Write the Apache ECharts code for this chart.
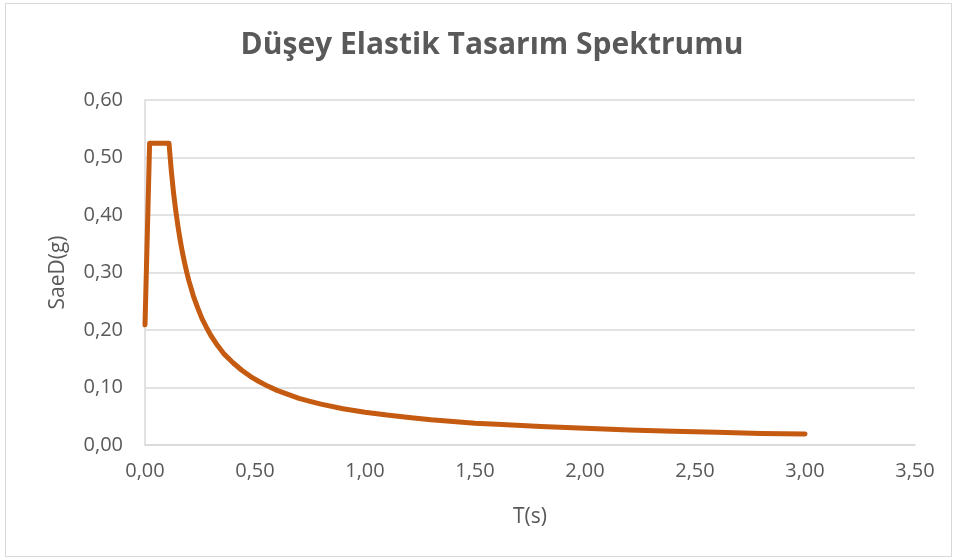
<!DOCTYPE html>
<html>
<head>
<meta charset="utf-8">
<script src="https://cdn.jsdelivr.net/npm/echarts@6/dist/echarts.min.js"></script>
<style>
html,body{margin:0;padding:0;background:#fff;}
#frame{position:absolute;left:5px;top:3px;width:947px;height:554px;border:1px solid #d9d9d9;box-sizing:border-box;}
#chart{position:absolute;left:0;top:0;width:955px;height:560px;}
</style>
</head>
<body>
<div id="frame"></div>
<div id="chart"></div>
<script>
// Period T (s) and vertical elastic design spectrum SaeD (g)
const periodT = [0.000, 0.021, 0.109, 0.120, 0.130, 0.140, 0.150, 0.160, 0.170, 0.180, 0.190, 0.200, 0.220, 0.240, 0.260, 0.280, 0.300, 0.330, 0.360, 0.400, 0.440, 0.480, 0.520, 0.560, 0.600, 0.650, 0.700, 0.750, 0.800, 0.900, 1.000, 1.100, 1.200, 1.300, 1.400, 1.500, 1.600, 1.800, 2.000, 2.200, 2.400, 2.600, 2.800, 3.000];
const saeD    = [0.209, 0.525, 0.525, 0.475, 0.438, 0.407, 0.380, 0.356, 0.335, 0.317, 0.300, 0.285, 0.259, 0.238, 0.219, 0.204, 0.190, 0.173, 0.158, 0.143, 0.130, 0.119, 0.110, 0.102, 0.095, 0.088, 0.081, 0.076, 0.071, 0.063, 0.057, 0.052, 0.048, 0.044, 0.041, 0.038, 0.036, 0.032, 0.029, 0.026, 0.024, 0.022, 0.020, 0.019];

const xTickLabels = ['0,00','0,50','1,00','1,50','2,00','2,50','3,00','3,50'];
const yTickLabels = ['0,00','0,10','0,20','0,30','0,40','0,50','0,60'];

const titleText = 'Düşey Elastik Tasarım Spektrumu';
const xName = 'T(s)';
const yName = 'SaeD(g)';

const seriesData = periodT.map((t, i) => [t, saeD[i]]);
const FONT = 'Open Sans';
const TXT = '#595959';

const chart = echarts.init(document.getElementById('chart'), null, {renderer: 'canvas'});
chart.setOption({
  animation: false,
  backgroundColor: 'transparent',
  title: {
    text: titleText,
    left: 487,
    top: 25,
    textAlign: 'center',
    textStyle: {fontFamily: FONT, fontSize: 30, fontWeight: 'bold', color: TXT}
  },
  grid: {left: 145, right: 40, top: 100, bottom: 115, containLabel: false},
  xAxis: {
    type: 'value',
    min: 0, max: 3.5, interval: 0.5,
    name: xName,
    nameLocation: 'middle',
    nameGap: 62,
    nameTextStyle: {fontFamily: FONT, fontSize: 21, color: TXT},
    axisLine: {show: true, lineStyle: {color: '#d9d9d9', width: 1.5}},
    axisTick: {show: false},
    splitLine: {show: false},
    axisLabel: {
      fontFamily: FONT, fontSize: 20, color: TXT, margin: 16,
      formatter: v => xTickLabels[Math.round(v / 0.5)]
    }
  },
  yAxis: {
    type: 'value',
    min: 0, max: 0.6, interval: 0.1,
    name: yName,
    nameLocation: 'middle',
    nameRotate: 90,
    nameGap: 76,
    nameTextStyle: {fontFamily: FONT, fontSize: 21, color: TXT},
    axisLine: {show: true, lineStyle: {color: '#d9d9d9', width: 1.5}},
    axisTick: {show: false},
    splitLine: {show: true, lineStyle: {color: '#d9d9d9', width: 1.5}},
    axisLabel: {
      fontFamily: FONT, fontSize: 20, color: TXT, margin: 22,
      formatter: v => yTickLabels[Math.round(v / 0.1)]
    }
  },
  series: [{
    type: 'line',
    data: seriesData,
    showSymbol: false,
    smooth: false,
    lineStyle: {color: '#C55A11', width: 5, cap: 'round', join: 'round'},
    itemStyle: {color: '#C55A11'}
  }]
});
</script>
</body>
</html>
